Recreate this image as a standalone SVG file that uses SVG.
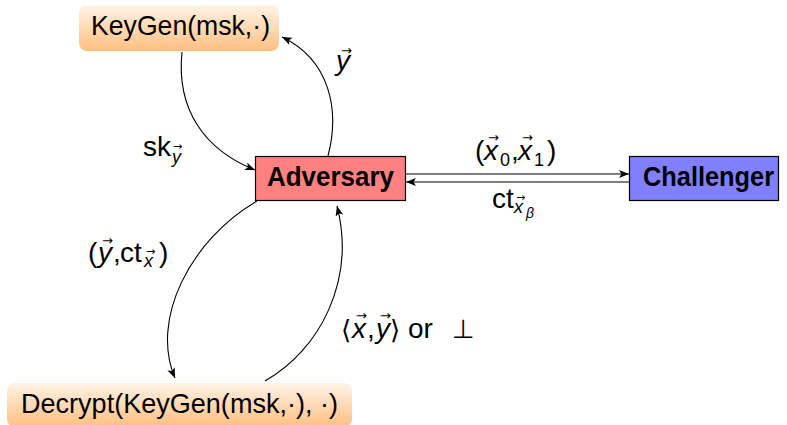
<svg xmlns="http://www.w3.org/2000/svg" width="787" height="425" viewBox="0 0 787 425">
<defs>
<linearGradient id="og" x1="0" y1="0" x2="0" y2="1">
<stop offset="0" stop-color="#fff3e6"/>
<stop offset="1" stop-color="#ffbf80"/>
</linearGradient>
<marker id="ah" viewBox="0 0 10 8" refX="10" refY="4" markerWidth="10" markerHeight="8" markerUnits="userSpaceOnUse" orient="auto">
<path d="M0,0 L10,4 L0,8 L2.5,4 z" fill="#000"/>
</marker>
<style>
text{font-family:"Liberation Sans",Arial,sans-serif;fill:#000;font-size:28px}
.b{font-weight:bold}
.i{font-style:italic}
.s{font-size:18px}
.ss{font-size:14px}
.v{font-family:"DejaVu Sans",sans-serif;font-size:13px;font-style:normal}
.vs{font-family:"DejaVu Sans",sans-serif;font-size:11px;font-style:normal}
.d{font-family:"DejaVu Sans",sans-serif;font-size:26px}
.c{fill:none;stroke:#000;stroke-width:1.1;marker-end:url(#ah)}
</style>
</defs>
<g id="keygen">
<rect x="79" y="5" width="200" height="46" rx="8" fill="url(#og)"/>
<text x="91" y="35" textLength="179" lengthAdjust="spacingAndGlyphs">KeyGen(msk,·)</text>
</g>
<g id="decrypt">
<rect x="7" y="383" width="345" height="44" rx="8" fill="url(#og)"/>
<text x="21" y="413" textLength="317" lengthAdjust="spacingAndGlyphs">Decrypt(KeyGen(msk,·), ·)</text>
</g>
<g id="adversary">
<rect x="255.5" y="156.5" width="150" height="44" fill="#ff8080" stroke="#000" stroke-width="1.2"/>
<text class="b" x="267" y="186" textLength="127" lengthAdjust="spacingAndGlyphs">Adversary</text>
</g>
<g id="challenger">
<rect x="629.5" y="156.5" width="149" height="44" fill="#8080ff" stroke="#000" stroke-width="1.2"/>
<text class="b" x="643" y="186" textLength="131" lengthAdjust="spacingAndGlyphs">Challenger</text>
</g>
<g id="connectors">
<path class="c" d="M182,52 C176,110 205,150 255,170"/>
<path class="c" d="M328,156 C340,110 330,60 282,37"/>
<path class="c" d="M257,201 C190,240 150,320 175,378"/>
<path class="c" d="M265,381 C320,350 356,280 337,206"/>
<path class="c" d="M406,174 L629,174"/>
<path class="c" d="M629,182 L406,182"/>
</g>
<g id="labels">
<text><tspan class="i" x="336" y="70">y</tspan><tspan class="v" x="341" y="55">→</tspan></text>
<text><tspan x="143" y="156">sk</tspan><tspan class="s i" x="172" y="163">y</tspan><tspan class="vs" x="173" y="150">→</tspan></text>
<text><tspan x="475" y="160">(</tspan><tspan class="i" x="484" y="160">x</tspan><tspan class="v" x="488" y="142">→</tspan><tspan class="s" x="500" y="166">0</tspan><tspan x="511" y="160">,</tspan><tspan class="i" x="518" y="160">x</tspan><tspan class="v" x="522" y="142">→</tspan><tspan class="s" x="534" y="166">1</tspan><tspan x="547" y="160">)</tspan></text>
<text><tspan x="492" y="208">ct</tspan><tspan class="s i" x="514" y="213">x</tspan><tspan class="vs" x="516" y="201">→</tspan><tspan class="ss i" x="526" y="218">β</tspan></text>
<text><tspan x="88" y="262">(</tspan><tspan class="i" x="98" y="262">y</tspan><tspan class="v" x="102" y="245">→</tspan><tspan x="113" y="262">,</tspan><tspan x="120" y="262">ct</tspan><tspan class="s i" x="144" y="267">x</tspan><tspan class="vs" x="146" y="255">→</tspan><tspan x="159" y="262">)</tspan></text>
<text><tspan class="d" x="341" y="339">⟨</tspan><tspan class="i" x="352" y="338">x</tspan><tspan class="v" x="356" y="320">→</tspan><tspan x="367" y="338">,</tspan><tspan class="i" x="376" y="338">y</tspan><tspan class="v" x="380" y="320">→</tspan><tspan class="d" x="390" y="339">⟩</tspan><tspan x="408" y="338">or</tspan><tspan class="d" x="452" y="338">⊥</tspan></text>
</g>
</svg>
